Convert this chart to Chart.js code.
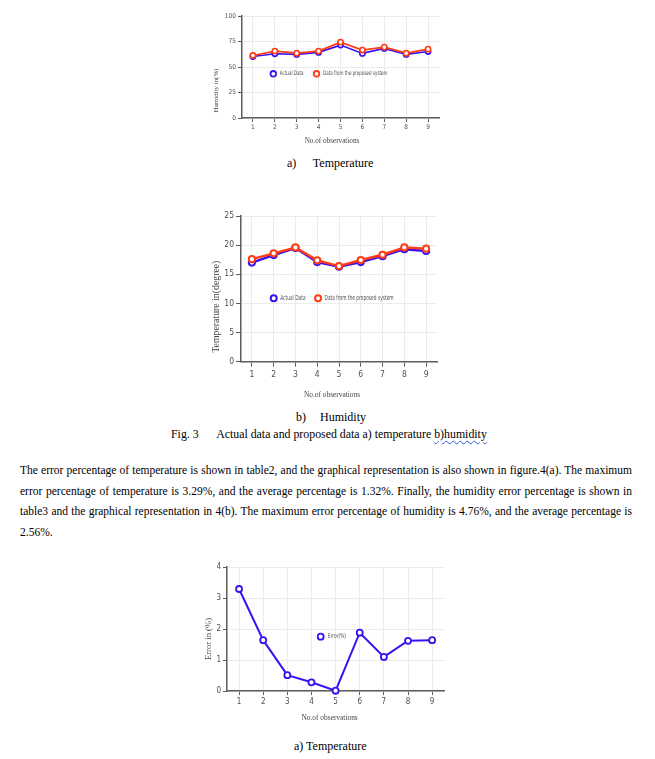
<!DOCTYPE html>
<html>
<head>
<meta charset="utf-8">
<script src="https://cdn.jsdelivr.net/npm/chart.js@4.4.1/dist/chart.umd.min.js"></script>
<style>
html, body { margin: 0; padding: 0; background: #fff; }
#page { position: relative; width: 655px; height: 759px; overflow: hidden;
        font-family: 'Liberation Serif', 'Times New Roman', serif; color: #000; }
.abs { position: absolute; white-space: nowrap; font-size: 12px; line-height: 14px; }
.chartbox { position: absolute; }
.para { position: absolute; left: 20px; top: 460px; width: 612px; font-size: 11.5px; }
.para div { text-align: justify; text-align-last: justify; height: 20.5px; line-height: 20.5px; }
.para div.last { text-align-last: left; }
.spell { text-decoration: underline wavy #2f55d4; text-decoration-thickness: 1px; text-underline-offset: 2px; }
</style>
</head>
<body>
<div id="page">
  <div class="chartbox" style="left:200px;top:5px;"><canvas id="c1" width="250" height="150"></canvas></div>
  <div class="abs" style="left:287px;top:156px;">a)<span style="margin-left:16.5px">Temperature</span></div>

  <div class="chartbox" style="left:200px;top:205px;"><canvas id="c2" width="250" height="200"></canvas></div>
  <div class="abs" style="left:296px;top:410px;">b)<span style="margin-left:14px">Humidity</span></div>
  <div class="abs" style="left:171px;top:427px;font-size:11.85px;">Fig. 3<span style="margin-left:17.5px">Actual data and proposed data a) temperature <span class="spell">b)humidity</span></span></div>

  <div class="para">
    <div>The error percentage of temperature is shown in table2, and the graphical representation is also shown in figure.4(a). The maximum</div>
    <div>error percentage of temperature is 3.29%, and the average percentage is 1.32%. Finally, the humidity error percentage is shown in</div>
    <div>table3 and the graphical representation in 4(b). The maximum error percentage of humidity is 4.76%, and the average percentage is</div>
    <div class="last">2.56%.</div>
  </div>

  <div class="chartbox" style="left:190px;top:560px;"><canvas id="c3" width="260" height="170"></canvas></div>
  <div class="abs" style="left:294px;top:739px;">a) Temperature</div>
</div>

<script>
// ---- data ----
const observations = ['1', '2', '3', '4', '5', '6', '7', '8', '9'];
const humidityActual   = [60.3, 63.0, 62.3, 64.3, 71.5, 63.3, 68.2, 62.3, 65.2];
const humidityProposed = [61.3, 65.6, 63.6, 65.6, 74.4, 66.6, 69.5, 63.6, 67.5];
const humidityTicks = [0, 25, 50, 75, 100];
const temperatureActual   = [17.0, 18.3, 19.5, 17.1, 16.3, 17.1, 18.1, 19.3, 19.0];
const temperatureProposed = [17.6, 18.6, 19.6, 17.4, 16.4, 17.45, 18.35, 19.6, 19.4];
const temperatureTicks = [0, 5, 10, 15, 20, 25];
const temperatureError = [3.29, 1.64, 0.51, 0.28, 0.01, 1.88, 1.10, 1.62, 1.64];
const errorTicks = [0, 1, 2, 3, 4];

const labelActual = 'Actual Data';
const labelProposed = 'Data from the proposed system';
const labelError = 'Error(%)';

// ---- styles ----
const BLUE = '#3a12f2';
const RED = '#ff3c14';
const NARROW = "'Liberation Sans Narrow', 'Arial Narrow', 'DejaVu Sans Condensed', sans-serif";
const SERIF = "'Liberation Serif', 'Times New Roman', serif";
const GRID = '#ebebeb';
const AXIS = '#5c5c5c';
const TXT = '#505050';

Chart.defaults.animation = false;
Chart.defaults.devicePixelRatio = 1;

const inlineLegend = {
  id: 'inlineLegend',
  afterDatasetsDraw(chart, args, o) {
    if (!o || !o.show) return;
    const ctx = chart.ctx;
    ctx.save();
    ctx.font = o.fontSize + 'px ' + NARROW;
    ctx.textBaseline = 'middle';
    ctx.textAlign = 'left';
    let x = o.x;
    const y = o.y;
    chart.data.datasets.forEach(ds => {
      ctx.beginPath();
      ctx.arc(x, y, o.radius, 0, Math.PI * 2);
      ctx.fillStyle = '#fff';
      ctx.fill();
      ctx.lineWidth = o.lineWidth;
      ctx.strokeStyle = ds.borderColor;
      ctx.stroke();
      ctx.fillStyle = TXT;
      const tx = x + o.textGap;
      ctx.save();
      ctx.translate(tx, y);
      ctx.scale(o.squeeze, 1);
      ctx.fillText(ds.label, 0, 0);
      ctx.restore();
      x = tx + ctx.measureText(ds.label).width * o.squeeze + o.itemGap;
    });
    ctx.restore();
  }
};

function shiftTitle(scale, dx, dy) {
  if (scale.__shifted) return;
  scale.__shifted = true;
  const orig = scale.drawTitle;
  scale.drawTitle = function () {
    this.ctx.save();
    this.ctx.translate(dx, dy);
    orig.call(this);
    this.ctx.restore();
  };
}
function yFit(width, shift) {
  return function (scale) { scale.width = width; shiftTitle(scale, 0, shift); };
}
function xFit(height, shift) {
  return function (scale) { scale.height = height; shiftTitle(scale, shift, 0); };
}

function lineDataset(label, data, color, s, order) {
  return {
    label: label, data: data, borderColor: color, backgroundColor: color,
    borderWidth: s.lw, pointRadius: s.pr, pointBorderWidth: s.pbw,
    pointBackgroundColor: '#fff', pointBorderColor: color,
    tension: 0, clip: false, order: order
  };
}

function makeChart(id, datasets, s) {
  return new Chart(document.getElementById(id), {
    type: 'line',
    data: { labels: observations, datasets: datasets },
    options: {
      responsive: false,
      maintainAspectRatio: false,
      layout: { padding: s.pad },
      plugins: {
        legend: { display: false },
        tooltip: { enabled: false },
        inlineLegend: s.legend
      },
      scales: {
        x: {
          type: 'category', offset: true,
          afterFit: xFit(s.xh, s.xShift),
          grid: { color: GRID, lineWidth: 1, tickColor: AXIS, tickLength: s.tl, drawTicks: true },
          border: { display: true, color: AXIS, width: 1.5 },
          ticks: { color: TXT, font: { family: NARROW, size: s.tickFont }, padding: s.xpad, maxRotation: 0, autoSkip: false },
          title: { display: true, text: 'No.of observations', color: '#444',
                   font: { family: SERIF, size: s.xtFont }, padding: { top: 0, bottom: s.xtPad } }
        },
        y: {
          min: s.ticks[0], max: s.ticks[s.ticks.length - 1],
          afterBuildTicks: (scale) => { scale.ticks = s.ticks.map(v => ({ value: v })); },
          afterFit: yFit(s.yw, s.yShift),
          grid: { color: GRID, lineWidth: 1, tickColor: AXIS, tickLength: s.tl, drawTicks: true },
          border: { display: true, color: AXIS, width: 1.5 },
          ticks: { color: TXT, font: { family: NARROW, size: s.tickFont }, padding: 2 },
          title: { display: true, text: s.yTitle, color: '#444',
                   font: { family: SERIF, size: s.ytFont }, padding: { top: s.ytPad, bottom: 0 } }
        }
      }
    },
    plugins: [inlineLegend]
  });
}

// Chart 1: humidity
const st1 = { lw: 1.7, pr: 2.6, pbw: 1.6 };
makeChart('c1', [
  lineDataset(labelActual, humidityActual, BLUE, st1, 2),
  lineDataset(labelProposed, humidityProposed, RED, st1, 1)
], {
  pad: { left: 0, right: 11, top: 11, bottom: 0 },
  xh: 37, yw: 42, tl: 4, xpad: 1, tickFont: 6.5,
  xtFont: 7.2, xtPad: 9.5, xShift: -8.5, ytFont: 6.9, ytPad: 12, yShift: 23.5,
  yTitle: 'Humidity in(%)', ticks: humidityTicks,
  legend: { show: true, x: 73.3, y: 68.8, radius: 2.8, lineWidth: 1.8, textGap: 6.5, itemGap: 13, fontSize: 6.2, squeeze: 0.73 }
});

// Chart 2: temperature
const st2 = { lw: 2.4, pr: 3.1, pbw: 2.0 };
makeChart('c2', [
  lineDataset(labelActual, temperatureActual, BLUE, st2, 2),
  lineDataset(labelProposed, temperatureProposed, RED, st2, 1)
], {
  pad: { left: 0, right: 13, top: 11, bottom: 0 },
  xh: 43.3, yw: 41, tl: 5, xpad: 3, tickFont: 8.5,
  xtFont: 7.4, xtPad: 5.5, xShift: -7, ytFont: 9.8, ytPad: 11, yShift: 17.8,
  yTitle: 'Temperature in(degree)', ticks: temperatureTicks,
  legend: { show: true, x: 73.7, y: 93.3, radius: 3.0, lineWidth: 2.0, textGap: 6.5, itemGap: 12.5, fontSize: 7, squeeze: 0.69 }
});

// Chart 3: error
const st3 = { lw: 2.0, pr: 3.0, pbw: 1.8 };
makeChart('c3', [
  lineDataset(labelError, temperatureError, BLUE, st3, 1)
], {
  pad: { left: 0, right: 3, top: 7, bottom: 0 },
  xh: 39, yw: 37, tl: 4, xpad: 2, tickFont: 8,
  xtFont: 7.4, xtPad: 7.5, xShift: -6, ytFont: 8.6, ytPad: 14, yShift: 10,
  yTitle: 'Error in (%)', ticks: errorTicks,
  legend: { show: true, x: 130.7, y: 76.7, radius: 3.0, lineWidth: 1.8, textGap: 7, itemGap: 13, fontSize: 6.6, squeeze: 0.745 }
});
</script>
</body>
</html>
